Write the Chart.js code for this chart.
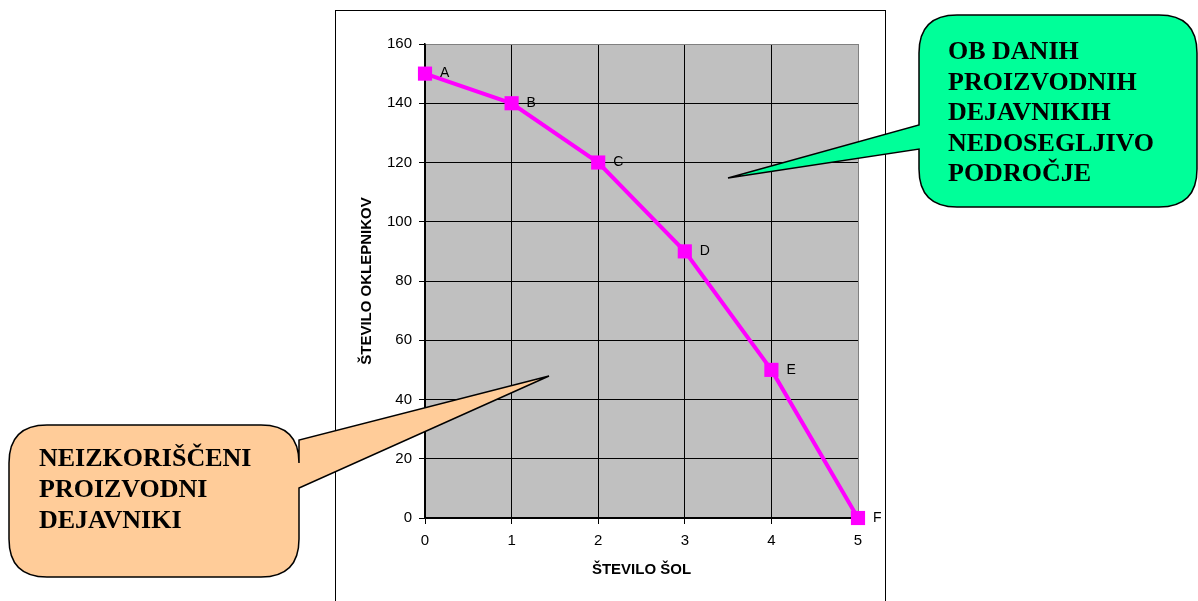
<!DOCTYPE html>
<html>
<head>
<meta charset="utf-8">
<script src="https://cdn.jsdelivr.net/npm/chart.js@4/dist/chart.umd.min.js"></script>
<style>
  html, body { margin: 0; padding: 0; background: #fff; overflow: hidden; }
  canvas { display: block; }
</style>
</head>
<body>
<canvas id="myChart" width="1198" height="601"></canvas>
<script>
// data
const xValues = [0, 1, 2, 3, 4, 5];
const yValues = [150, 140, 120, 90, 50, 0];
const pointNames = ['A', 'B', 'C', 'D', 'E', 'F'];
const xTitle = 'ŠTEVILO ŠOL';
const yTitle = 'ŠTEVILO OKLEPNIKOV';
const noteRight = ['OB DANIH', 'PROIZVODNIH', 'DEJAVNIKIH', 'NEDOSEGLJIVO', 'PODROČJE'];
const noteLeft = ['NEIZKORIŠČENI', 'PROIZVODNI', 'DEJAVNIKI'];

const sans = '"Liberation Sans", Arial, sans-serif';

// rounded box with a pointer on the left or right side
function bubble(ctx, x, y, w, h, r, tail, fill) {
  ctx.save();
  ctx.beginPath();
  ctx.moveTo(x + r, y);
  ctx.lineTo(x + w - r, y);
  ctx.quadraticCurveTo(x + w, y, x + w, y + r);
  if (tail.side === 'right') {
    ctx.lineTo(x + w, tail.a);
    ctx.lineTo(tail.tx, tail.ty);
    ctx.lineTo(x + w, tail.b);
  }
  ctx.lineTo(x + w, y + h - r);
  ctx.quadraticCurveTo(x + w, y + h, x + w - r, y + h);
  ctx.lineTo(x + r, y + h);
  ctx.quadraticCurveTo(x, y + h, x, y + h - r);
  if (tail.side === 'left') {
    ctx.lineTo(x, tail.b);
    ctx.lineTo(tail.tx, tail.ty);
    ctx.lineTo(x, tail.a);
  }
  ctx.lineTo(x, y + r);
  ctx.quadraticCurveTo(x, y, x + r, y);
  ctx.closePath();
  ctx.fillStyle = fill;
  ctx.fill();
  ctx.lineWidth = 1.5;
  ctx.strokeStyle = '#000';
  ctx.stroke();
  ctx.restore();
}

const decorations = {
  id: 'decorations',
  beforeDraw(chart) {
    const ctx = chart.ctx;
    const a = chart.chartArea;
    ctx.save();
    ctx.fillStyle = '#fff';
    ctx.fillRect(0, 0, chart.width, chart.height);
    ctx.strokeStyle = '#000';
    ctx.lineWidth = 1;
    ctx.strokeRect(335.5, 10.5, 550, 620);
    ctx.fillStyle = '#c0c0c0';
    ctx.fillRect(a.left, a.top, a.right - a.left, a.bottom - a.top);
    ctx.restore();
  },
  afterDraw(chart) {
    const ctx = chart.ctx;
    const meta = chart.getDatasetMeta(0);
    ctx.save();
    ctx.font = '14px ' + sans;
    ctx.fillStyle = '#000';
    ctx.textBaseline = 'middle';
    meta.data.forEach((pt, i) => {
      ctx.fillText(pointNames[i], pt.x + 15, pt.y);
    });

    bubble(ctx, 919, 15, 278, 192, 38,
      { side: 'left', a: 125, b: 149, tx: 728, ty: 178 }, '#00ff99');
    bubble(ctx, 9, 425, 290, 152, 38,
      { side: 'right', a: 440, b: 488, tx: 549, ty: 376 }, '#ffcc99');

    ctx.font = 'bold 26px "Liberation Serif", "Times New Roman", serif';
    ctx.fillStyle = '#000';
    ctx.textBaseline = 'alphabetic';
    noteRight.forEach((t, i) => ctx.fillText(t, 948, 59 + i * 30.5));
    noteLeft.forEach((t, i) => ctx.fillText(t, 39, 466 + i * 31));
    ctx.restore();
  }
};

const gridColor = (c, last) => c.tick && c.tick.value === last ? '#808080' : '#000';

new Chart(document.getElementById('myChart'), {
  type: 'line',
  data: {
    datasets: [{
      data: xValues.map((x, i) => ({ x: x, y: yValues[i] })),
      borderColor: '#ff00ff',
      backgroundColor: '#ff00ff',
      borderWidth: 4,
      pointStyle: 'rect',
      pointRadius: 10,
      pointHoverRadius: 10,
      pointBorderWidth: 0,
      tension: 0,
      clip: false
    }]
  },
  options: {
    responsive: false,
    animation: false,
    devicePixelRatio: 1,
    layout: { padding: { left: 345, right: 340, top: 44, bottom: 13 } },
    plugins: { legend: { display: false }, tooltip: { enabled: false } },
    scales: {
      x: {
        type: 'linear', min: 0, max: 5,
        afterFit(s) { s.height = 70; },
        ticks: { stepSize: 1, color: '#000', padding: 8,
          font: { family: sans, size: 15 } },
        grid: { color: c => gridColor(c, 5), tickColor: '#000', tickLength: 6, lineWidth: 1 },
        border: { color: '#000', width: 1.5 },
        title: { display: true, text: xTitle, color: '#000', padding: { top: 0, bottom: 9 },
          font: { family: sans, size: 15, weight: 'bold' } }
      },
      y: {
        min: 0, max: 160,
        afterFit(s) { s.width = 80; },
        ticks: { stepSize: 20, color: '#000', padding: 7,
          font: { family: sans, size: 15 } },
        grid: { color: c => gridColor(c, 160), tickColor: '#000', tickLength: 6, lineWidth: 1 },
        border: { color: '#000', width: 1.5 },
        title: { display: true, text: yTitle, color: '#000', padding: { top: 13, bottom: 0 },
          font: { family: sans, size: 15, weight: 'bold' } }
      }
    }
  },
  plugins: [decorations]
});
</script>
</body>
</html>
